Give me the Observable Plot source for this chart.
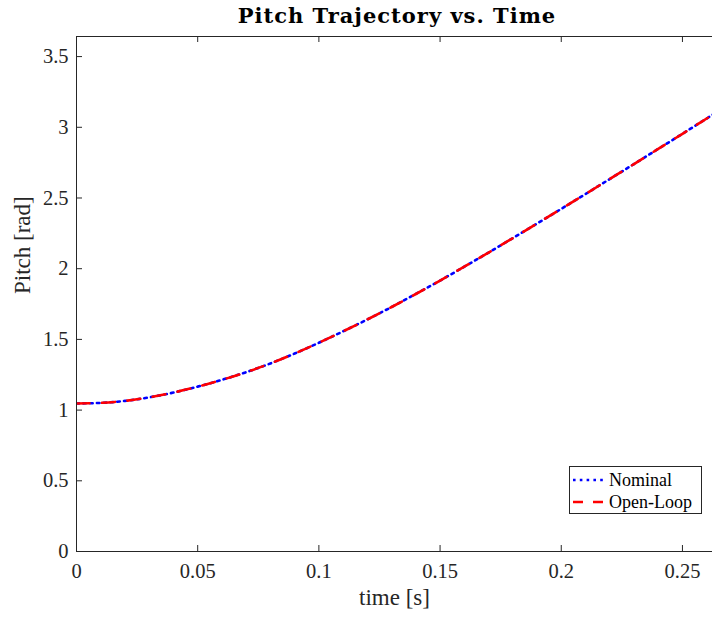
<!DOCTYPE html>
<html>
<head>
<meta charset="utf-8">
<script src="https://cdn.jsdelivr.net/npm/d3@7"></script>
<script src="https://cdn.jsdelivr.net/npm/@observablehq/plot@0.6"></script>
<style>
  html, body { margin: 0; padding: 0; background: #fff; }
  #wrap { position: relative; width: 712px; height: 620px; font-family: "Liberation Serif", "DejaVu Serif", serif; color: #262626; overflow: hidden; }
  #title { height: 30px; line-height: 32px; font-family: "DejaVu Serif", serif; font-weight: bold; font-size: 21px; letter-spacing: 1px; text-align: center; padding-left: 82px; color: #000; }
  #legend { position: absolute; left: 569px; top: 466px; width: 131px; height: 46px; border: 1px solid #262626; background: #fff; font-size: 18px; color: #000; }
  #legend .row { position: absolute; left: 3px; height: 20px; display: flex; align-items: center; }
  #legend svg { display: block; margin-right: 5px; }
</style>
</head>
<body>
<div id="wrap">
  <div id="title">Pitch Trajectory vs. Time</div>
  <div id="chart"></div>
  <div id="legend"></div>
</div>
<script>
// ---- data ----
const time = [0, 0.01, 0.02, 0.03, 0.04, 0.05, 0.06, 0.07, 0.08, 0.09, 0.10, 0.11, 0.12, 0.13, 0.14, 0.15, 0.16, 0.17, 0.18, 0.19, 0.20, 0.21, 0.22, 0.23, 0.24, 0.25, 0.26, 0.27];
const nominal = [1.047, 1.051, 1.065, 1.090, 1.124, 1.166, 1.214, 1.268, 1.330, 1.400, 1.476, 1.557, 1.641, 1.729, 1.821, 1.916, 2.014, 2.114, 2.216, 2.319, 2.423, 2.528, 2.634, 2.740, 2.847, 2.954, 3.062, 3.170];
const openLoop = [1.047, 1.051, 1.065, 1.090, 1.124, 1.166, 1.214, 1.268, 1.330, 1.400, 1.476, 1.557, 1.641, 1.729, 1.821, 1.916, 2.014, 2.114, 2.216, 2.319, 2.423, 2.528, 2.634, 2.740, 2.847, 2.954, 3.062, 3.170];
const xTicks = [0, 0.05, 0.1, 0.15, 0.2, 0.25];
const yTicks = [0, 0.5, 1, 1.5, 2, 2.5, 3, 3.5];
const xDomain = [0, 0.2624];
const yDomain = [0, 3.642];
const seriesNames = ["Nominal", "Open-Loop"];
const xLabel = "time [s]";
const yLabel = "Pitch [rad]";

const nomData = time.map((t, i) => ({t, v: nominal[i]}));
const olData = time.map((t, i) => ({t, v: openLoop[i]}));

const W = 712, H = 590;
const mt = 6, mb = 69, ml = 76, mr = 0;
const innerH = H - mt - mb, innerW = W - ml - mr;
const axisColor = "#262626";

const chart = Plot.plot({
  width: W, height: H,
  marginTop: mt, marginBottom: mb, marginLeft: ml, marginRight: mr,
  style: { background: "#fff", fontFamily: "'Liberation Serif', 'DejaVu Serif', serif", fontSize: "20px", color: axisColor, overflow: "visible" },
  x: { domain: xDomain, label: null },
  y: { domain: yDomain, label: null },
  marks: [
    // curves
    Plot.line(nomData, { x: "t", y: "v", stroke: "#0000ff", strokeWidth: 2.6, strokeDasharray: "2.6,4.2", curve: "natural", clip: true }),
    Plot.line(olData, { x: "t", y: "v", stroke: "#ff0000", strokeWidth: 2.6, strokeDasharray: "13,12.5", curve: "natural", clip: true }),
    // axis lines
    Plot.ruleY([yDomain[0]], { stroke: axisColor, strokeWidth: 1 }),
    Plot.ruleY([yDomain[1]], { stroke: axisColor, strokeWidth: 1 }),
    Plot.ruleX([xDomain[0]], { stroke: axisColor, strokeWidth: 1 }),
    // inward ticks
    Plot.ruleX(xTicks, { x: d => d, insetTop: innerH - 6, stroke: axisColor }),
    Plot.ruleX(xTicks, { x: d => d, insetBottom: innerH - 6, stroke: axisColor }),
    Plot.ruleY(yTicks, { y: d => d, insetRight: innerW - 6, stroke: axisColor }),
    // tick labels
    Plot.axisX(xTicks, { tickSize: 0, tickPadding: 12, label: null, tickFormat: d => String(d), fontSize: 20.5, fill: axisColor }),
    Plot.axisY(yTicks, { tickSize: 0, tickPadding: 8, label: null, tickFormat: d => String(d), fontSize: 20.5, fill: axisColor }),
    // axis titles
    Plot.text([xLabel], { frameAnchor: "bottom", dy: 53, text: d => d, fontSize: 23, fill: axisColor }),
    Plot.text([yLabel], { frameAnchor: "left", dx: -54, rotate: -90, text: d => d, fontSize: 23, fill: axisColor })
  ]
});
document.getElementById("chart").appendChild(chart);

// legend
const legend = document.getElementById("legend");
const legendStyles = [
  { color: "#0000ff", dash: "2.6,4.2" },
  { color: "#ff0000", dash: "10,10" }
];
seriesNames.forEach((name, i) => {
  const row = document.createElement("div");
  row.className = "row";
  row.style.top = (3 + i * 22) + "px";
  const s = legendStyles[i];
  row.innerHTML = `<svg width="31" height="6"><line x1="0" y1="3" x2="31" y2="3" stroke="${s.color}" stroke-width="2.6" stroke-dasharray="${s.dash}"/></svg><span>${name}</span>`;
  legend.appendChild(row);
});
</script>
</body>
</html>
